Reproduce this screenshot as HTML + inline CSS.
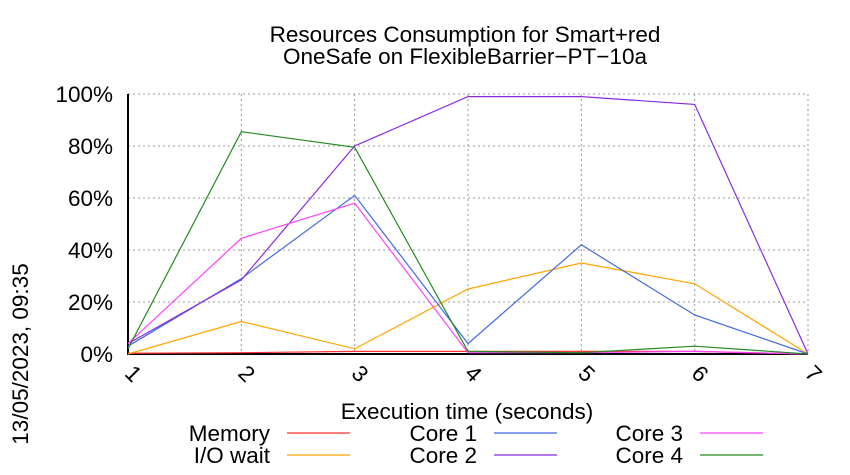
<!DOCTYPE html>
<html><head><meta charset="utf-8"><style>
body{margin:0;background:#fff;}
svg{display:block;font-family:"Liberation Sans",sans-serif;}
</style></head><body>
<svg id="chart" width="850" height="475" viewBox="0 0 850 475">
<text x="465" y="42" font-size="22.5" text-anchor="middle">Resources Consumption for Smart+red</text>
<text x="465" y="64" font-size="22.5" text-anchor="middle">OneSafe on FlexibleBarrier−PT−10a</text>
<text transform="translate(28,354) rotate(-90)" font-size="22.5" text-anchor="middle">13/05/2023, 09:35</text>
<text x="467" y="419" font-size="22.5" text-anchor="middle">Execution time (seconds)</text>
<g id="grid"></g><g id="series"></g><g id="legend"></g>
</svg>
<script>
const xCats=[1,2,3,4,5,6,7];
const yTicks=[0,20,40,60,80,100];
const memory=[0.3,0.5,1,1,1,1,0];
const ioWait=[0,12.5,2,25,35,27,0];
const core1=[3,29,61,4,42,15,0];
const core2=[4,28.5,80,99,99,96,0];
const core3=[4,44.5,58,0.5,0.5,1,0];
const core4=[2,85.5,79.5,1,0.5,3,0];
const names=["Memory","I/O wait","Core 1","Core 2","Core 3","Core 4"];
const NS="http://www.w3.org/2000/svg";
const L=128,R=808,T=94,B=354;
const xs=v=>L+(v-1)*(R-L)/6, ys=v=>B-v*(B-T)/100;
function mk(t,a,p){const e=document.createElementNS(NS,t);for(const k in a)e.setAttribute(k,a[k]);p.appendChild(e);return e;}
const g=document.getElementById('grid');
yTicks.forEach(v=>{
 const l=mk('line',{x1:L,x2:R,y1:ys(v),y2:ys(v),stroke:'#999','stroke-dasharray':'2,3'},g);
 
 
 const t=mk('text',{x:113,y:ys(v)+8,'font-size':22.5,'text-anchor':'end'},g);t.textContent=v+'%';
 
 
});
xCats.forEach(v=>{
 const l=mk('line',{x1:xs(v),x2:xs(v),y1:T,y2:B,stroke:'#999','stroke-dasharray':'2,3'},g);
 
 
 const t=mk('text',{transform:`translate(${xs(v)},379) rotate(45)`,'font-size':22.5,'text-anchor':'middle'},g);t.textContent=v;
 
 
});
const ax=mk('path',{d:`M${L},${T}V${B}H${R}`,stroke:'#000','stroke-width':2,fill:'none'},g);


const data=[memory,ioWait,core1,core2,core3,core4];
const cols=["#ff3030","#ffa500","#4169e1","#8a2be2","#ff40ff","#228b22"];
const s=document.getElementById('series');
data.forEach((d,i)=>{
 const p=mk('polyline',{points:d.map((v,j)=>xs(xCats[j])+','+ys(v)).join(' '),fill:'none',stroke:cols[i],'stroke-width':1.2},s);
 
 
});
const lg=document.getElementById('legend');
const lx=[270,477,683];
names.forEach((n,i)=>{
 const c=Math.floor(i/2),r=i%2,y=r?455:433;
 const t=mk('text',{x:lx[c],y:y+8,'font-size':22.5,'text-anchor':'end'},lg);t.textContent=n;
 
 
 const l=mk('line',{x1:lx[c]+17,x2:lx[c]+80,y1:y,y2:y,stroke:cols[i],'stroke-width':1.2},lg);
 
 
});
</script>
</body></html>
